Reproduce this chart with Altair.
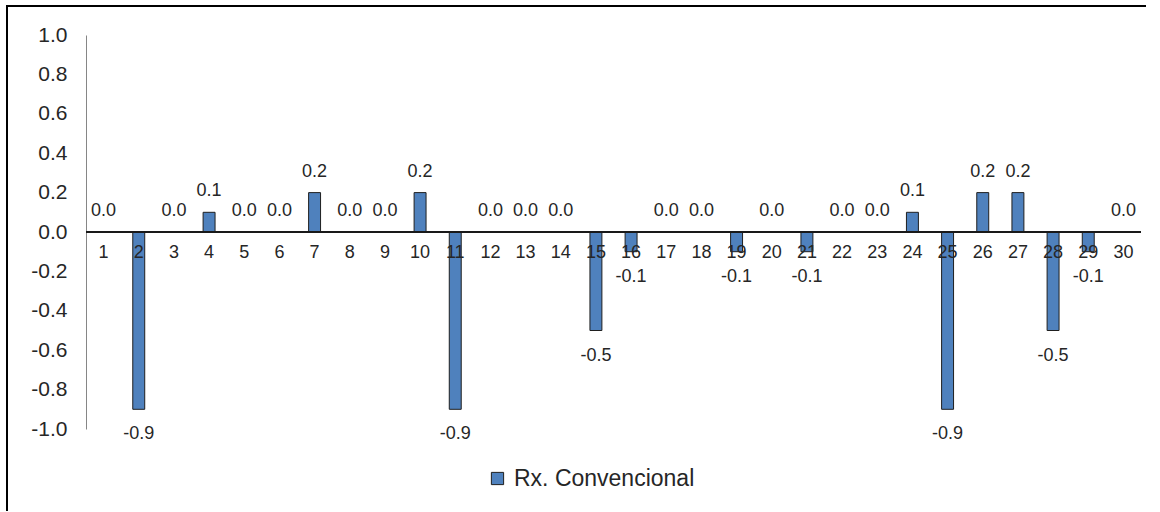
import altair as alt
import pandas as pd

days = list(range(1, 31))
values = [0.0, -0.9, 0.0, 0.1, 0.0, 0.0, 0.2, 0.0, 0.0, 0.2,
          -0.9, 0.0, 0.0, 0.0, -0.5, -0.1, 0.0, 0.0, -0.1, 0.0,
          -0.1, 0.0, 0.0, 0.1, -0.9, 0.2, 0.2, -0.5, -0.1, 0.0]
series_name = "Rx. Convencional"
y_ticks = [-1.0, -0.8, -0.6, -0.4, -0.2, 0.0, 0.2, 0.4, 0.6, 0.8, 1.0]

df = pd.DataFrame({
    "day": [str(d) for d in days],
    "value": values,
    "label": [f"{v:.1f}" for v in values],
    "series": [series_name] * len(days),
})

FONT = "Liberation Sans"
W, H = 1055, 394
order = [str(d) for d in days]

x_enc = alt.X("day:N", sort=order, axis=None,
              scale=alt.Scale(paddingInner=0, paddingOuter=0))
y_scale = alt.Scale(domain=[-1.0, 1.0], nice=False)
y_axis = alt.Axis(values=y_ticks, title=None, grid=False, ticks=False,
                  labelOverlap=False,
                  labelExpr="replace(format(datum.value, '.1f'), '\u2212', '-')",
                  labelFont=FONT, labelFontSize=21, labelColor="#262626",
                  labelPadding=19, domainColor="#868686", domainWidth=1)

base = alt.Chart(df)

frame_left = base.mark_rule(color="#000000", strokeWidth=2, clip=False).encode(
    x=alt.value(-79), y=alt.value(-30), y2=alt.value(476)
)
frame_top = base.mark_rule(color="#000000", strokeWidth=2, clip=False).encode(
    x=alt.value(-80), x2=alt.value(1060), y=alt.value(-29)
)

cat_labels = base.mark_text(font=FONT, fontSize=18, color="#262626", dy=21,
                            baseline="middle").encode(
    x=x_enc, y=alt.datum(0, scale=y_scale, axis=y_axis), text="day:N"
)

zero = base.mark_rule(color="#1a1a1a", strokeWidth=1.5).encode(
    y=alt.datum(0, scale=y_scale, axis=y_axis), x=alt.value(0), x2=alt.value(W)
)

bars = base.mark_bar(stroke="#1f1f1f", strokeWidth=1,
                     width=alt.RelativeBandSize(0.34)).encode(
    x=x_enc,
    y=alt.Y("value:Q", scale=y_scale, axis=y_axis),
    y2=alt.datum(0),
    color=alt.Color("series:N", scale=alt.Scale(range=["#4F81BD"]),
                    legend=alt.Legend(title=None, orient="none", legendX=400, legendY=432,
                                      symbolType="square", symbolSize=150,
                                      symbolStrokeColor="#1f1f1f", symbolStrokeWidth=1,
                                      labelFont=FONT, labelFontSize=23, labelColor="#262626",
                                      labelLimit=400, labelOffset=5)),
)

pos_labels = base.transform_filter("datum.value >= 0").mark_text(
    font=FONT, fontSize=18, color="#262626", dy=-21, baseline="middle").encode(
    x=x_enc, y=alt.Y("value:Q", scale=y_scale, axis=y_axis), text="label:N"
)
neg_labels = base.transform_filter("datum.value < 0").mark_text(
    font=FONT, fontSize=18, color="#262626", dy=25, baseline="middle").encode(
    x=x_enc, y=alt.Y("value:Q", scale=y_scale, axis=y_axis), text="label:N"
)

chart = alt.layer(bars, frame_left, frame_top, cat_labels, zero, pos_labels, neg_labels).properties(
    width=W, height=H,
    background="white",
    autosize=alt.AutoSizeParams(type="none"),
    padding={"left": 86, "top": 35, "right": 19, "bottom": 83},
).configure_view(strokeWidth=0, stroke="transparent")

chart.save("out.html", embed_options={"renderer": "svg", "actions": False})
